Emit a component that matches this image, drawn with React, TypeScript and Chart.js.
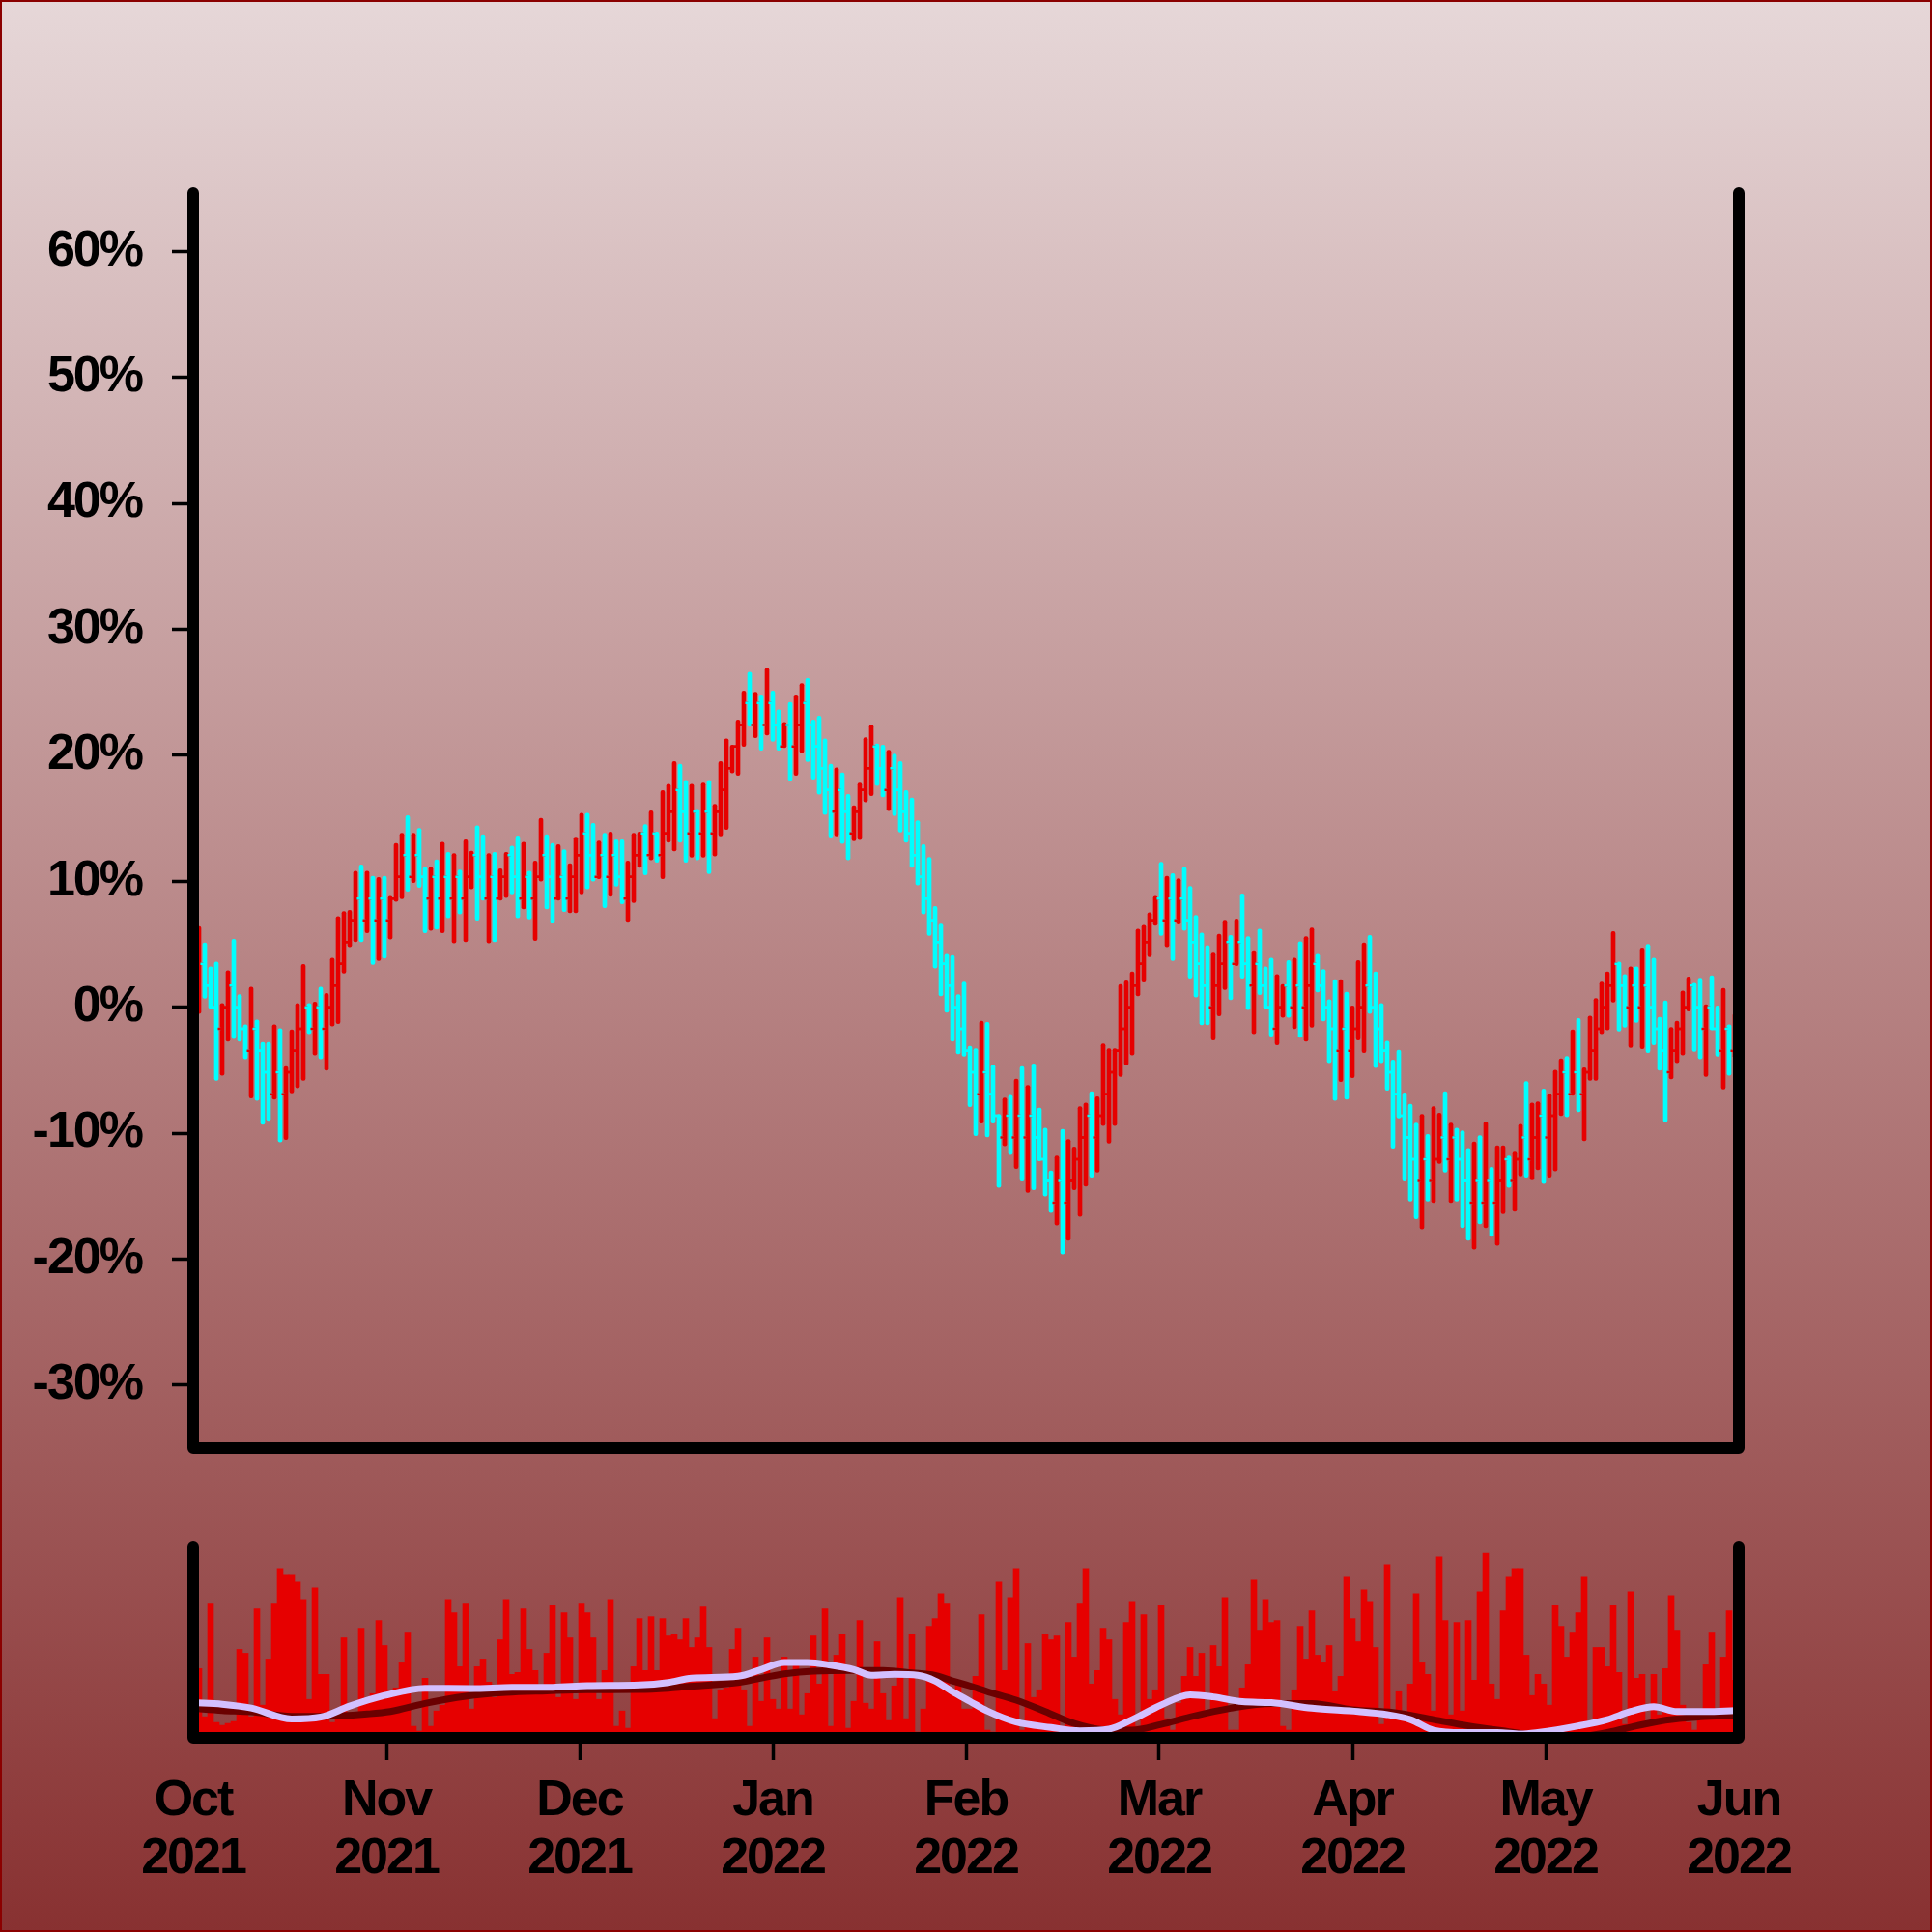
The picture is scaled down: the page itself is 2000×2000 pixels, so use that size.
import React, { useEffect, useRef } from "react";
import { Chart, registerables } from "chart.js";

Chart.register(...registerables);

// ---------- data (percent change, one bar per day starting 1 Oct 2021) ----------
const opens = [
  0, 1.72, 3.45, 1.72, 0, -1.72, 0, 1.72, 0, -1.72,
  -3.45, -1.72, -3.45, -5.17, -6.9, -5.17, -6.9, -5.17, -3.45, -1.72,
  0, -1.72, 0, -1.72, 0, 1.72, 3.45, 5.17, 6.9, 8.62,
  6.9, 8.62, 6.9, 8.62, 6.9, 8.62, 10.34, 12.07, 10.34, 12.07,
  10.34, 8.62, 10.34, 8.62, 10.34, 8.62, 10.34, 8.62, 10.34, 12.07,
  10.34, 8.62, 10.34, 8.62, 10.34, 12.07, 10.34, 8.62, 10.34, 8.62,
  10.34, 12.07, 10.34, 8.62, 10.34, 8.62, 10.34, 12.07, 13.79, 12.07,
  10.34, 12.07, 10.34, 12.07, 10.34, 8.62, 10.34, 12.07, 13.79, 12.07,
  13.79, 12.07, 13.79, 15.52, 17.24, 15.52, 13.79, 15.52, 13.79, 15.52,
  13.79, 15.52, 17.24, 18.97, 20.69, 22.41, 24.14, 22.41, 24.14, 22.41,
  24.14, 22.41, 20.69, 22.41, 20.69, 22.41, 24.14, 22.41, 20.69, 18.97,
  17.24, 15.52, 17.24, 15.52, 13.79, 15.52, 17.24, 18.97, 20.69, 18.97,
  17.24, 18.97, 17.24, 15.52, 13.79, 12.07, 10.34, 8.62, 6.9, 5.17,
  3.45, 1.72, 0, -1.72, -3.45, -5.17, -6.9, -5.17, -6.9, -8.62,
  -10.34, -8.62, -10.34, -8.62, -10.34, -8.62, -10.34, -12.07, -13.79, -15.52,
  -13.79, -15.52, -13.79, -12.07, -10.34, -8.62, -10.34, -8.62, -6.9, -5.17,
  -3.45, -1.72, 0, 1.72, 3.45, 5.17, 6.9, 8.62, 6.9, 8.62,
  6.9, 8.62, 6.9, 5.17, 3.45, 1.72, 0, 1.72, 3.45, 5.17,
  3.45, 5.17, 3.45, 1.72, 3.45, 1.72, 0, -1.72, 0, 1.72,
  0, 1.72, 0, 1.72, 3.45, 1.72, 0, -1.72, -3.45, -1.72,
  -3.45, -1.72, 0, 1.72, 0, -1.72, -3.45, -5.17, -6.9, -8.62,
  -10.34, -12.07, -13.79, -12.07, -13.79, -12.07, -10.34, -12.07, -10.34, -12.07,
  -13.79, -15.52, -13.79, -15.52, -13.79, -15.52, -13.79, -12.07, -13.79, -12.07,
  -10.34, -12.07, -10.34, -8.62, -10.34, -8.62, -6.9, -5.17, -6.9, -5.17,
  -6.9, -5.17, -3.45, -1.72, 0, 1.72, 3.45, 1.72, 0, 1.72,
  0, 1.72, 0, -1.72, -3.45, -5.17, -3.45, -1.72, 0, 1.72,
  0, -1.72, 0, -1.72, -3.45, -1.72, -3.45,
];

const closes = [
  1.72, 3.45, 1.72, 0, -1.72, 0, 1.72, 0, -1.72, -3.45,
  -1.72, -3.45, -5.17, -6.9, -5.17, -6.9, -5.17, -3.45, -1.72, 0,
  -1.72, 0, -1.72, 0, 1.72, 3.45, 5.17, 6.9, 8.62, 6.9,
  8.62, 6.9, 8.62, 6.9, 8.62, 10.34, 12.07, 10.34, 12.07, 10.34,
  8.62, 10.34, 8.62, 10.34, 8.62, 10.34, 8.62, 10.34, 12.07, 10.34,
  8.62, 10.34, 8.62, 10.34, 12.07, 10.34, 8.62, 10.34, 8.62, 10.34,
  12.07, 10.34, 8.62, 10.34, 8.62, 10.34, 12.07, 13.79, 12.07, 10.34,
  12.07, 10.34, 12.07, 10.34, 8.62, 10.34, 12.07, 13.79, 12.07, 13.79,
  12.07, 13.79, 15.52, 17.24, 15.52, 13.79, 15.52, 13.79, 15.52, 13.79,
  15.52, 17.24, 18.97, 20.69, 22.41, 24.14, 22.41, 24.14, 22.41, 24.14,
  22.41, 20.69, 22.41, 20.69, 22.41, 24.14, 22.41, 20.69, 18.97, 17.24,
  15.52, 17.24, 15.52, 13.79, 15.52, 17.24, 18.97, 20.69, 18.97, 17.24,
  18.97, 17.24, 15.52, 13.79, 12.07, 10.34, 8.62, 6.9, 5.17, 3.45,
  1.72, 0, -1.72, -3.45, -5.17, -6.9, -5.17, -6.9, -8.62, -10.34,
  -8.62, -10.34, -8.62, -10.34, -8.62, -10.34, -12.07, -13.79, -15.52, -13.79,
  -15.52, -13.79, -12.07, -10.34, -8.62, -10.34, -8.62, -6.9, -5.17, -3.45,
  -1.72, 0, 1.72, 3.45, 5.17, 6.9, 8.62, 6.9, 8.62, 6.9,
  8.62, 6.9, 5.17, 3.45, 1.72, 0, 1.72, 3.45, 5.17, 3.45,
  5.17, 3.45, 1.72, 3.45, 1.72, 0, -1.72, 0, 1.72, 0,
  1.72, 0, 1.72, 3.45, 1.72, 0, -1.72, -3.45, -1.72, -3.45,
  -1.72, 0, 1.72, 0, -1.72, -3.45, -5.17, -6.9, -8.62, -10.34,
  -12.07, -13.79, -12.07, -13.79, -12.07, -10.34, -12.07, -10.34, -12.07, -13.79,
  -15.52, -13.79, -15.52, -13.79, -15.52, -13.79, -12.07, -13.79, -12.07, -10.34,
  -12.07, -10.34, -8.62, -10.34, -8.62, -6.9, -5.17, -6.9, -5.17, -6.9,
  -5.17, -3.45, -1.72, 0, 1.72, 3.45, 1.72, 0, 1.72, 0,
  1.72, 0, -1.72, -3.45, -5.17, -3.45, -1.72, 0, 1.72, 0,
  -1.72, 0, -1.72, -3.45, -1.72, -3.45, -1.72,
];

const highs = [
  3.0, 6.4, 5.1, 3.2, 3.6, 0.3, 2.9, 5.4, 1.0, -1.4,
  1.6, -1.0, -2.8, -2.8, -1.4, -1.7, -4.7, -1.8, 0.3, 3.4,
  0.3, 0.4, 1.6, 1.1, 3.9, 7.2, 7.6, 7.7, 10.8, 11.3,
  10.8, 10.4, 10.3, 10.4, 8.8, 13.0, 13.8, 15.2, 13.8, 14.2,
  11.1, 11.1, 11.7, 13.1, 12.3, 12.2, 10.9, 13.3, 12.4, 14.4,
  13.7, 12.2, 12.3, 11.0, 12.3, 12.8, 13.6, 13.1, 10.8, 11.6,
  15.0, 13.7, 13.0, 12.9, 12.5, 11.4, 13.5, 15.4, 15.4, 14.6,
  13.2, 13.8, 13.9, 13.3, 13.3, 11.6, 13.8, 13.9, 14.5, 15.6,
  13.9, 17.2, 17.7, 19.5, 19.3, 18.0, 17.7, 15.7, 17.8, 18.0,
  16.1, 19.5, 21.3, 20.8, 22.8, 25.1, 26.6, 25.0, 24.8, 26.9,
  25.1, 23.6, 22.6, 24.2, 24.8, 25.7, 26.1, 22.8, 23.1, 21.3,
  19.3, 19.0, 18.6, 16.9, 16.0, 17.8, 21.4, 22.4, 20.9, 20.8,
  20.4, 20.1, 19.5, 17.2, 16.6, 14.8, 12.9, 11.9, 8.0, 6.6,
  4.2, 4.1, 1.0, 2.0, -3.1, -3.3, -1.1, -1.2, -4.6, -8.5,
  -7.2, -7.0, -5.7, -4.7, -6.2, -4.5, -8.0, -9.6, -13.0, -11.8,
  -9.7, -10.5, -11.1, -7.9, -7.6, -6.7, -7.1, -2.9, -3.3, -3.3,
  1.8, 2.1, 2.8, 6.2, 6.5, 7.5, 8.8, 11.5, 10.4, 10.6,
  10.2, 11.1, 9.6, 7.3, 5.9, 4.9, 4.3, 5.8, 6.9, 5.7,
  7.0, 9.0, 5.6, 4.5, 6.2, 3.2, 3.9, 2.6, 1.8, 3.7,
  3.9, 5.2, 5.6, 6.3, 4.2, 3.0, 0.6, 2.2, 2.2, 1.2,
  0.1, 3.7, 5.1, 5.7, 2.8, 0.3, -2.7, -4.2, -3.4, -6.8,
  -7.7, -9.2, -8.5, -10.1, -7.9, -8.4, -6.7, -9.2, -9.6, -9.8,
  -11.2, -10.7, -10.2, -9.1, -12.7, -11.0, -11.0, -11.8, -11.5, -9.3,
  -5.9, -7.6, -7.5, -6.5, -6.9, -5.0, -4.1, -3.9, -1.8, -0.9,
  -4.8, -0.7, 0.7, 2.0, 2.8, 6.0, 3.6, 2.6, 3.2, 3.2,
  4.7, 5.0, 3.9, -0.8, 0.5, -1.6, -1.1, 1.3, 2.4, 1.9,
  2.3, 0.2, 2.5, 0.1, 1.5, -1.4, -0.5,
];

const lows = [
  -1.5, -0.5, 0.7, -0.1, -5.8, -5.4, -2.7, -2.5, -2.7, -4.1,
  -7.2, -7.4, -9.3, -9.0, -7.3, -10.7, -10.5, -6.8, -6.4, -5.8,
  -2.1, -3.8, -4.1, -5.0, -1.5, -1.3, 2.7, 4.8, 5.2, 5.2,
  5.9, 3.4, 3.7, 3.9, 5.4, 8.4, 8.6, 9.2, 9.9, 9.5,
  5.9, 6.1, 6.2, 5.9, 7.1, 5.1, 7.4, 5.2, 9.4, 6.9,
  8.5, 5.1, 5.2, 8.5, 8.7, 9.0, 7.1, 7.8, 7.0, 5.3,
  10.0, 7.8, 6.7, 8.5, 7.6, 7.5, 7.5, 9.0, 9.4, 10.0,
  10.2, 7.9, 8.8, 9.6, 8.2, 6.8, 8.3, 11.1, 10.5, 11.7,
  11.5, 10.2, 13.1, 12.4, 13.1, 11.5, 11.9, 11.7, 11.9, 10.6,
  12.0, 13.6, 14.1, 18.6, 18.4, 20.7, 22.3, 21.4, 20.4, 21.6,
  21.1, 20.4, 20.6, 18.0, 18.4, 20.2, 19.5, 18.1, 16.9, 15.3,
  13.5, 13.6, 13.0, 11.7, 13.2, 13.3, 16.3, 16.8, 17.6, 16.7,
  15.6, 15.2, 13.9, 13.1, 11.1, 9.7, 7.4, 5.7, 3.1, 0.9,
  -0.4, -2.7, -3.7, -3.9, -7.9, -10.2, -9.2, -10.3, -9.2, -14.3,
  -11.0, -11.7, -12.8, -13.8, -14.7, -14.5, -12.2, -15.0, -16.3, -17.3,
  -19.6, -18.5, -14.5, -16.6, -14.2, -13.5, -13.1, -9.4, -10.8, -9.4,
  -5.5, -4.6, -3.8, 0.9, 2.0, 4.0, 6.5, 5.7, 4.8, 3.7,
  6.6, 6.1, 2.3, 0.8, -1.4, -1.4, -2.6, -0.7, 1.4, 0.6,
  3.3, 2.3, -0.2, -2.1, 1.0, -0.1, -2.3, -3.0, -0.8, -0.8,
  -1.7, -2.4, -2.7, -1.6, 1.2, -1.1, -4.4, -7.4, -5.9, -7.3,
  -5.6, -2.6, -3.6, -0.5, -4.8, -4.4, -6.6, -11.2, -8.8, -13.8,
  -15.4, -16.8, -17.6, -15.4, -15.5, -12.4, -13.1, -15.5, -15.4, -17.5,
  -18.5, -19.2, -17.2, -17.5, -18.2, -18.9, -16.4, -14.3, -16.2, -13.4,
  -13.5, -13.7, -12.9, -14.0, -13.5, -13.0, -8.6, -8.7, -7.0, -8.3,
  -10.6, -5.8, -5.8, -2.1, -1.8, 0.4, -1.9, -1.6, -3.2, -1.2,
  -3.3, -3.6, -3.0, -5.0, -9.1, -5.7, -4.4, -3.8, -0.3, -3.5,
  -4.1, -5.5, -1.8, -3.9, -6.5, -5.4, -4.0,
];

const volumes = [
  30, 36, 11, 70, 8, 6.5, 7.5, 8.5, 46, 44,
  11, 67, 17, 41, 70, 88, 85, 85, 81, 72,
  20, 78, 33, 33, 8, 9.5, 52, 9.5, 11, 57,
  20, 23, 61, 48, 25, 26, 39, 55, 6, 3.5,
  31, 6, 14, 17, 72, 65, 37, 70, 15, 37,
  41, 29, 21, 51, 72, 33, 34, 67, 46, 35,
  23, 44, 69, 21, 65, 52, 20, 70, 65, 52,
  20, 35, 72, 6, 14, 5, 37, 62, 35, 63,
  35, 62, 53, 54, 51, 62, 47, 52, 68, 47,
  10, 25, 26, 46, 57, 25, 6, 42, 19, 52,
  20, 15, 42, 15, 40, 12, 23, 53, 28, 67,
  6, 43, 54, 5, 19, 61, 18, 15, 50, 23,
  9, 27, 73, 10, 54, 3, 15, 58, 62, 75,
  70, 24, 30, 15, 15, 32, 64, 4, 3, 81,
  35, 73, 88, 4, 49, 21, 25, 54, 51, 53,
  6, 60, 42, 70, 88, 28, 35, 57, 51, 20,
  12, 60, 71, 6, 64, 20, 25, 69, 10, 4,
  18, 32, 47, 32, 44, 14, 48, 37, 73, 4,
  4, 26, 38, 82, 56, 72, 60, 61, 6, 4,
  25, 58, 41, 66, 43, 39, 48, 24, 32, 84,
  62, 50, 77, 71, 47, 7, 90, 10, 24, 13,
  28, 75, 39, 33, 14, 94, 61, 12, 60, 14,
  61, 30, 76, 96, 28, 20, 66, 84, 88, 88,
  43, 22, 33, 28, 17, 69, 58, 42, 55, 65,
  84, 6, 47, 47, 37, 69, 34, 7, 76, 31,
  33, 6, 33, 12, 36, 74, 56, 17, 8, 4,
  10, 38, 55, 12, 42, 66, 30,
];

// day index of every bar (category positions)
const dayIndex = opens.map((_, i) => i);

// smoothed volume averages, read at sample days
const maShortIdx = [0, 5, 10, 17, 22, 27, 33, 40, 48, 55, 62, 68, 77, 82, 86, 94, 98, 102, 106, 110, 114, 117, 121, 125, 128, 131, 134, 137, 142, 148, 153, 158, 162, 167, 172, 176, 181, 186, 193, 201, 206, 210, 214, 219, 225, 229, 232, 239, 244, 248, 252, 256, 261, 266];
const maShortVals = [18.3, 17.5, 15.5, 9.8, 10.8, 16.5, 22, 25.8, 25.6, 26.2, 26.3, 27.1, 27.5, 28.8, 31, 32, 35.5, 39.2, 39.2, 37.8, 35.5, 32.5, 33, 32.5, 29.6, 24, 19, 14, 8.2, 5.4, 3.7, 4.5, 9.5, 17.1, 22.4, 21.3, 18.8, 18.3, 15.4, 13.7, 12.1, 9.5, 4, 2.8, 2.8, 2, 2.8, 6.2, 9.5, 13.7, 16.2, 13.7, 13.7, 14.2];
const maLongIdx = [0, 5, 10, 17, 23, 30, 34, 40, 47, 54, 61, 68, 77, 82, 85, 94, 102, 107, 114, 119, 124, 128, 131, 134, 137, 142, 147, 152, 157, 162, 167, 172, 179, 186, 193, 200, 207, 214, 220, 227, 232, 238, 244, 249, 254, 260, 266];
const maLongVals = [15.3, 14.2, 13.5, 11.2, 11.2, 12.4, 13.7, 17.9, 21.6, 23.6, 24.4, 25, 25.1, 25.8, 26.6, 28.8, 33.3, 34.7, 35, 35, 33.8, 32.5, 29.6, 27, 24.1, 19.6, 13.7, 7.5, 4.2, 4, 7, 10.9, 15.4, 17.9, 17.9, 14.6, 13.2, 9.5, 6.2, 3.2, 1.2, 0.3, 2.8, 6.2, 9.2, 10.9, 11.7];

// axes
const X_MAX = 800 / 3;
const monthTickPos = [0, 100 / 3, 200 / 3, 100, 400 / 3, 500 / 3, 200, 700 / 3, 800 / 3];
const monthTickLabels = [
  ["Oct", "2021"], ["Nov", "2021"], ["Dec", "2021"], ["Jan", "2022"], ["Feb", "2022"],
  ["Mar", "2022"], ["Apr", "2022"], ["May", "2022"], ["Jun", "2022"],
];
const yTickValues = [-30, -20, -10, 0, 10, 20, 30, 40, 50, 60];

// ---------- styling ----------
const RED = "#e60000";
const CYAN = "#00ffff";
const LAVENDER = "#d3c0ff";
const MAROON = "#6b0000";
const FONT = { family: '"Liberation Sans", Arial, Helvetica, sans-serif', size: 52, weight: "bold", lineHeight: 1.15 };

const spacingPlugin = {
  id: "letterSpacing",
  beforeDraw(chart: any) {
    try { chart.ctx.letterSpacing = "-2px"; } catch (e) { /* ignore */ }
  },
};

const makeSpines = (topInset: number) => ({
  id: "spines",
  afterDraw(chart: any) {
    const { ctx, chartArea } = chart;
    const { left, right, top, bottom } = chartArea;
    ctx.save();
    ctx.strokeStyle = "#000";
    ctx.lineWidth = 12;
    ctx.lineCap = "round";
    ctx.lineJoin = "round";
    ctx.beginPath();
    ctx.moveTo(left, top + topInset);
    ctx.lineTo(left, bottom);
    ctx.lineTo(right, bottom);
    ctx.lineTo(right, top + topInset);
    ctx.stroke();
    ctx.restore();
  },
});

const ohlcTicks = {
  id: "ohlcTicks",
  afterDatasetsDraw(chart: any) {
    const { ctx, chartArea, scales } = chart;
    const xs = scales.x;
    const ys = scales.y;
    ctx.save();
    ctx.beginPath();
    ctx.rect(chartArea.left, chartArea.top, chartArea.right - chartArea.left, chartArea.bottom - chartArea.top);
    ctx.clip();
    ctx.lineWidth = 2.5;
    ctx.lineCap = "butt";
    dayIndex.forEach((d, i) => {
      const px = xs.getPixelForValue(d);
      const yo = ys.getPixelForValue(opens[i]);
      const yc = ys.getPixelForValue(closes[i]);
      ctx.strokeStyle = closes[i] >= opens[i] ? RED : CYAN;
      ctx.beginPath();
      ctx.moveTo(px - 4.5, yo);
      ctx.lineTo(px, yo);
      ctx.moveTo(px, yc);
      ctx.lineTo(px + 4.5, yc);
      ctx.stroke();
    });
    ctx.restore();
  },
};

export default function App() {
  const mainRef = useRef<HTMLCanvasElement>(null);
  const volRef = useRef<HTMLCanvasElement>(null);

  useEffect(() => {
    const main = new Chart(mainRef.current as any, {
      type: "bar",
      data: {
        datasets: [
          {
            data: dayIndex.map((i) => ({ x: i, y: [lows[i], highs[i]] })),
            backgroundColor: dayIndex.map((i) => (closes[i] >= opens[i] ? RED : CYAN)),
            barThickness: 4,
            borderRadius: 2,
            borderSkipped: false,
            borderWidth: 0,
          } as any,
        ],
      },
      options: {
        animation: false,
        responsive: false,
        devicePixelRatio: 1,
        layout: { padding: { left: 0, right: 200, top: 195, bottom: 60 } },
        plugins: { legend: { display: false }, tooltip: { enabled: false } },
        scales: {
          x: { type: "linear", min: 0, max: X_MAX, display: false, offset: false, grid: { offset: false } },
          y: {
            type: "linear",
            min: -35,
            max: 65,
            afterFit: (s: any) => { s.width = 200; },
            afterBuildTicks: (s: any) => { s.ticks = yTickValues.map((v) => ({ value: v })); },
            ticks: { callback: (v: any) => `${v}%`, color: "#000", font: FONT as any, padding: 31 },
            grid: { drawOnChartArea: false, drawTicks: true, tickLength: 22, tickWidth: 3.5, tickColor: "#000", color: "#000" },
            border: { display: false },
          },
        },
      } as any,
      plugins: [spacingPlugin, ohlcTicks, makeSpines(5)],
    });

    const vol = new Chart(volRef.current as any, {
      type: "bar",
      data: {
        datasets: [
          {
            type: "line",
            data: maShortIdx.map((x, k) => ({ x, y: maShortVals[k] })),
            borderColor: LAVENDER,
            borderWidth: 7,
            pointRadius: 0,
            cubicInterpolationMode: "monotone",
            order: 1,
          } as any,
          {
            type: "line",
            data: maLongIdx.map((x, k) => ({ x, y: maLongVals[k] })),
            borderColor: MAROON,
            borderWidth: 7,
            pointRadius: 0,
            cubicInterpolationMode: "monotone",
            order: 2,
          } as any,
          {
            type: "bar",
            data: dayIndex.map((i) => ({ x: i, y: volumes[i] })),
            backgroundColor: RED,
            barThickness: 6,
            borderWidth: 0,
            order: 3,
          } as any,
        ],
      },
      options: {
        animation: false,
        responsive: false,
        devicePixelRatio: 1,
        layout: { padding: { left: 200, right: 200, top: 60, bottom: 0 } },
        plugins: { legend: { display: false }, tooltip: { enabled: false } },
        scales: {
          x: {
            type: "linear",
            min: 0,
            max: X_MAX,
            offset: false,
            afterFit: (s: any) => { s.height = 201; },
            afterBuildTicks: (s: any) => { s.ticks = monthTickPos.map((v) => ({ value: v })); },
            ticks: {
              autoSkip: false,
              maxRotation: 0,
              minRotation: 0,
              padding: 13,
              color: "#000",
              font: FONT as any,
              callback: (_v: any, idx: number) => monthTickLabels[idx],
            },
            grid: {
              offset: false,
              drawOnChartArea: false,
              drawTicks: true,
              tickLength: 23,
              tickWidth: 3.5,
              tickColor: (c: any) => (c.index === 0 || c.index === monthTickPos.length - 1 ? "rgba(0,0,0,0)" : "#000"),
              color: "rgba(0,0,0,0)",
            },
            border: { display: false },
          },
          y: { type: "linear", min: 0, max: 100, display: false },
        },
      } as any,
      plugins: [spacingPlugin, makeSpines(1)],
    });

    return () => {
      main.destroy();
      vol.destroy();
    };
  }, []);

  return (
    <div
      style={{
        position: "absolute",
        left: 0,
        top: 0,
        width: 2000,
        height: 2000,
        overflow: "hidden",
        background: "linear-gradient(to bottom, #e6d7d8 0%, #883131 100%)",
        boxShadow: "inset 0 0 0 2px #8b0000",
      }}
    >
      <canvas
        ref={mainRef}
        width={2000}
        height={1560}
        style={{ position: "absolute", left: 0, top: 0, width: 2000, height: 1560 }}
      />
      <canvas
        ref={volRef}
        width={2000}
        height={460}
        style={{ position: "absolute", left: 0, top: 1540, width: 2000, height: 460 }}
      />
    </div>
  );
}
